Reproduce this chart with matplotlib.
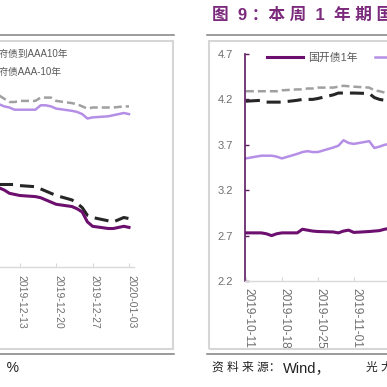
import matplotlib
matplotlib.use("Agg")
import matplotlib.pyplot as plt
import pandas as pd
from matplotlib.lines import Line2D
from matplotlib.patches import Rectangle
from matplotlib.transforms import ScaledTranslation

plt.rcParams["font.family"] = ["Liberation Sans", "Noto Sans CJK SC", "DejaVu Sans"]

# ---- left panel (figure 8, cut off on the left) ----
LEFT_DATES = ["2019-12-06", "2019-12-09", "2019-12-10", "2019-12-11", "2019-12-12",
              "2019-12-13", "2019-12-16", "2019-12-17", "2019-12-18", "2019-12-19",
              "2019-12-20", "2019-12-23", "2019-12-24", "2019-12-25", "2019-12-26",
              "2019-12-27", "2019-12-30", "2019-12-31", "2020-01-02", "2020-01-03"]
LEFT_GRAY = [4.09, 4.06, 4.03, 4.00, 4.00, 4.01, 4.01, 4.04, 4.04, 4.04,
             4.01, 3.99, 3.98, 3.96, 3.94, 3.95, 3.95, 3.95, 3.96, 3.96]
LEFT_LAVENDER = [4.01, 3.98, 3.96, 3.95, 3.93, 3.93, 3.93, 3.97, 3.97, 3.96,
                 3.94, 3.92, 3.91, 3.89, 3.85, 3.86, 3.87, 3.88, 3.90, 3.89]
LEFT_BLACK = [3.27, 3.25, 3.25, 3.25, 3.25, 3.24, 3.23, 3.21, 3.19, 3.17,
              3.15, 3.11, 3.08, 3.04, 2.97, 2.95, 2.92, 2.91, 2.95, 2.94]
LEFT_PURPLE = [3.24, 3.22, 3.20, 3.17, 3.16, 3.15, 3.14, 3.13, 3.11, 3.09,
               3.07, 3.05, 3.03, 3.00, 2.91, 2.87, 2.85, 2.85, 2.87, 2.86]
LEFT_TICKS = ["2019-12-13", "2019-12-20", "2019-12-27", "2020-01-03"]
LEFT_LABELS = ["地方政府债到AAA10年", "地方政府债AAA-10年"]

# ---- right panel (figure 9, cut off on the right) ----
RIGHT_DATES = ["2019-10-11", "2019-10-14", "2019-10-15", "2019-10-16", "2019-10-17",
               "2019-10-18", "2019-10-21", "2019-10-22", "2019-10-23", "2019-10-24",
               "2019-10-25", "2019-10-28", "2019-10-29", "2019-10-30", "2019-10-31",
               "2019-11-01", "2019-11-04", "2019-11-05", "2019-11-06", "2019-11-07",
               "2019-11-08"]
RIGHT_PURPLE = [2.73, 2.73, 2.72, 2.70, 2.72, 2.73, 2.73, 2.77, 2.76, 2.75,
                2.745, 2.74, 2.73, 2.75, 2.76, 2.735, 2.745, 2.75, 2.755, 2.77, 2.78]
RIGHT_LAVENDER = [3.55, 3.58, 3.58, 3.58, 3.57, 3.55, 3.60, 3.62, 3.63, 3.62,
                  3.62, 3.67, 3.69, 3.75, 3.72, 3.71, 3.74, 3.665, 3.68, 3.70, 3.71]
RIGHT_BLACK = [4.18, 4.19, 4.17, 4.17, 4.17, 4.17, 4.19, 4.20, 4.20, 4.20,
               4.21, 4.25, 4.27, 4.27, 4.27, 4.27, 4.265, 4.22, 4.20, 4.19, 4.19]
RIGHT_GRAY = [4.29, 4.29, 4.29, 4.29, 4.29, 4.30, 4.31, 4.31, 4.32, 4.32,
              4.33, 4.33, 4.34, 4.35, 4.345, 4.34, 4.33, 4.30, 4.29, 4.275, 4.27]
RIGHT_TICKS = ["2019-10-11", "2019-10-18", "2019-10-25", "2019-11-01", "2019-11-08"]
RIGHT_YTICKS = [2.2, 2.7, 3.2, 3.7, 4.2, 4.7]
RIGHT_LABELS = ["国开债1年", "地方政府债1年", "地方政府债到AAA1年", "地方政府债AAA-1年"]

TITLE = "图  9 ：本 周  1  年 期 国 开 债 与 地 方 政 府 债 收 益 率"
SOURCE = ["资 料 来 源：", "Wind，", "光 大 证 券 研 究 所"]
UNIT = "单位：%"

DARK_PURPLE = "#6c0f6e"
LAVENDER = "#b58fe6"
BLACK = "#262626"
GRAY = "#a0a0a0"
TICK_GRAY = "#6f6f6f"
AXIS_GRAY = "#d9d9d9"

W = H = 387.0


def fx(px):
    return px / W


def fy(py):
    return 1 - py / H


def draw_series(ax, dates, purple, lavender, black, gray):
    d = pd.to_datetime(dates)
    h_gray, = ax.plot(d, gray, color=GRAY, lw=1.8, dashes=(3.2, 1.6))
    h_black, = ax.plot(d, black, color=BLACK, lw=2.2, dashes=(4.6, 2.3))
    h_lav, = ax.plot(d, lavender, color=LAVENDER, lw=1.8)
    h_pur, = ax.plot(d, purple, color=DARK_PURPLE, lw=2.2)
    return h_pur, h_lav, h_gray, h_black


def style_xaxis(ax, ticks, size, pad, shift):
    ax.set_xticks(pd.to_datetime(ticks))
    ax.set_xticklabels(ticks, rotation=270, fontsize=size, color=TICK_GRAY)
    ax.tick_params(axis="x", direction="in", length=3, width=0.8,
                   color=AXIS_GRAY, pad=pad)
    for lab in ax.get_xticklabels():
        lab.set_transform(lab.get_transform()
                          + ScaledTranslation(shift / 100, 0, ax.figure.dpi_scale_trans))
    ax.spines["bottom"].set_color(AXIS_GRAY)
    ax.spines["bottom"].set_linewidth(1.0)
    for s in ["top", "right"]:
        ax.spines[s].set_visible(False)


fig = plt.figure(figsize=(3.87, 3.87), dpi=100)

# frames and separators
for x0, x1 in [(-10, 172.5), (209, 400)]:
    fig.add_artist(Rectangle((fx(x0), fy(349)), fx(x1) - fx(x0), fy(40.5) - fy(349),
                             transform=fig.transFigure, fill=False,
                             ec="#d6d6d6", lw=1.5))
for x0, x1 in [(0, 174), (207, 387)]:
    for py in [34.5, 353.5]:
        fig.add_artist(Line2D([fx(x0), fx(x1)], [fy(py), fy(py)],
                              transform=fig.transFigure, color="#808080", lw=1.1))

# left axes
lx0 = pd.Timestamp("2019-12-05")
lx1 = pd.Timestamp("2020-01-03") + pd.Timedelta(days=5 / 5.2)
left_px = 129 - 29 * 5.2
ax_l = fig.add_axes([fx(left_px), fy(267), fx(134) - fx(left_px), fy(47) - fy(267)])
ax_l.patch.set_alpha(0)
hl = draw_series(ax_l, LEFT_DATES, LEFT_PURPLE, LEFT_LAVENDER, LEFT_BLACK, LEFT_GRAY)
ax_l.set_xlim(lx0, lx1)
ax_l.set_ylim(2.5, 4.5)
style_xaxis(ax_l, LEFT_TICKS, 7.5, 6, 2)
ax_l.spines["left"].set_visible(False)
ax_l.tick_params(axis="y", left=False, labelleft=False)
ax_l.legend([hl[2], hl[1]], LEFT_LABELS, loc="upper left",
            bbox_to_anchor=(fx(-71), fy(49)), bbox_transform=fig.transFigure,
            frameon=False, fontsize=7, handlelength=3.7, handletextpad=0.5,
            borderpad=0, borderaxespad=0, labelspacing=0.85, labelcolor="#595959")

# right axes
rx0 = pd.Timestamp("2019-10-11") - pd.Timedelta(hours=4)
rx1 = pd.Timestamp("2019-11-12")
right_px = 245 + (rx1 - rx0).total_seconds() / 86400 * 5.14
ax_r = fig.add_axes([fx(245), fy(281), fx(right_px) - fx(245), fy(54) - fy(281)])
ax_r.patch.set_alpha(0)
hr = draw_series(ax_r, RIGHT_DATES, RIGHT_PURPLE, RIGHT_LAVENDER, RIGHT_BLACK, RIGHT_GRAY)
ax_r.set_xlim(rx0, rx1)
ax_r.set_ylim(2.2, 4.7)
style_xaxis(ax_r, RIGHT_TICKS, 8.6, 5, 3)
ax_r.set_yticks(RIGHT_YTICKS)
ax_r.set_yticklabels([f"{v:.1f}" for v in RIGHT_YTICKS], fontsize=8, color=TICK_GRAY)
ax_r.tick_params(axis="y", direction="in", length=3, width=1.0,
                 color="#5e1a60", pad=8.5)
ax_r.spines["left"].set_color("#5e1a60")
ax_r.spines["left"].set_linewidth(1.2)
ax_r.legend([hr[0], hr[1], hr[2], hr[3]], RIGHT_LABELS, loc="center left", ncol=4,
            bbox_to_anchor=(fx(267), fy(58)), bbox_transform=fig.transFigure,
            frameon=False, fontsize=7.8, handlelength=3.3, handletextpad=0.46,
            columnspacing=1.66, borderpad=0, borderaxespad=0, labelcolor="#595959")

# texts
fig.text(fx(212), fy(15), TITLE, ha="left", va="center", fontsize=12,
         fontweight="bold", color="#7b2a7c")
for x, s, size in [(212, SOURCE[0], 8.5), (283, SOURCE[1], 10.5), (366, SOURCE[2], 8.5)]:
    fig.text(fx(x), fy(368), s, ha="left", va="center", fontsize=size, color="#222222")
fig.text(fx(19), fy(368), UNIT, ha="right", va="center", fontsize=10, color="#222222")

fig.savefig("out.png", dpi=100)
